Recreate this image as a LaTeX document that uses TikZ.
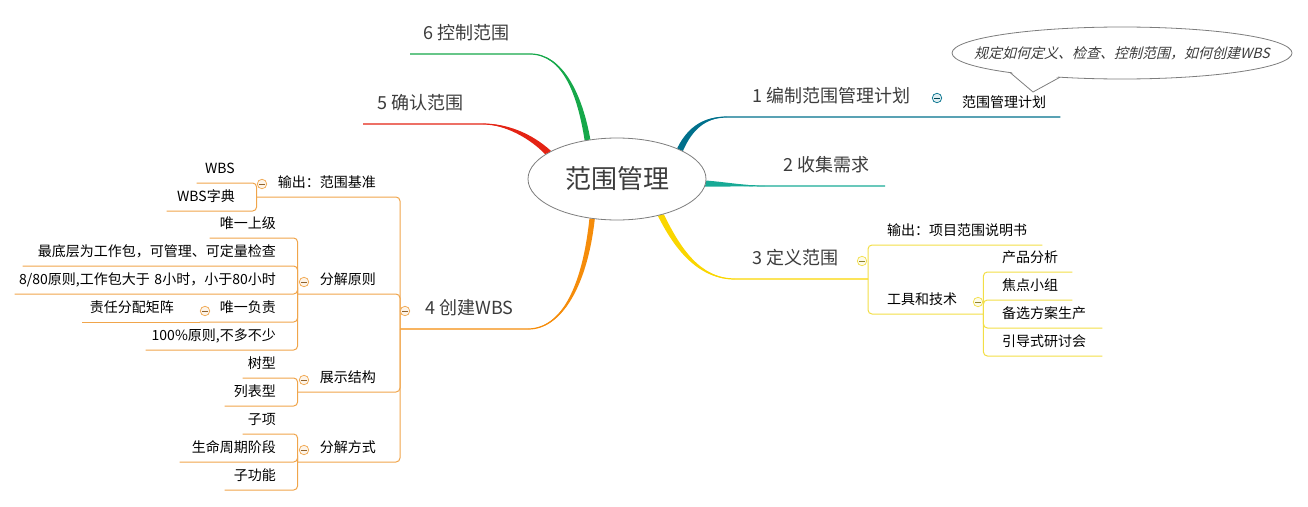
\documentclass[tikz,border=0pt]{standalone}
\usepackage{fontspec}
\setmainfont{Noto Sans CJK SC}
\newfontfamily\notefont{Noto Sans CJK SC}[FakeSlant=0.25]
\usetikzlibrary{shapes.geometric, backgrounds}
\definecolor{hubgray}{RGB}{125,125,125}
\definecolor{labelgray}{RGB}{60,60,60}
\definecolor{planteal}{RGB}{0,112,140}
\definecolor{reqteal}{RGB}{24,170,150}
\definecolor{defyellow}{RGB}{250,214,0}
\definecolor{defyellowlt}{RGB}{242,222,70}
\definecolor{wbsorange}{RGB}{245,140,10}
\definecolor{wbsorangelt}{RGB}{240,165,75}
\definecolor{verred}{RGB}{228,35,20}
\definecolor{ctrlgreen}{RGB}{22,168,74}
\newcommand{\hubsz}{\fontsize{26pt}{30pt}\selectfont}
\newcommand{\mainsz}{\fontsize{18pt}{21pt}\selectfont}
\newcommand{\subsz}{\fontsize{14pt}{16pt}\selectfont}
\newcommand{\notesz}{\fontsize{14pt}{16pt}\selectfont}
\tikzset{
  hub/.style={ellipse, draw=hubgray, fill=white, line width=0.8pt,
    minimum width=178pt, minimum height=82pt, font=\hubsz, text=labelgray},
  mainlabel/.style={anchor=south west, inner sep=0pt, text depth=14pt,
    font=\mainsz, text=labelgray},
  rtopic/.style={anchor=south west, inner sep=0pt, text depth=9pt,
    font=\subsz, align=left},
  ltopic/.style={anchor=south east, inner sep=0pt, text depth=9pt,
    font=\subsz, align=right},
  mainline/.style={line width=1.2pt},
  subline/.style={line width=1pt, rounded corners=4pt},
  foldmark/.style={circle, draw=#1, fill=#1!12, line width=0.7pt,
    minimum size=9.5pt, inner sep=0pt,
    path picture={\draw[#1!60!black, line width=0.7pt]
      ([xshift=2.2pt]path picture bounding box.west) --
      ([xshift=-2.2pt]path picture bounding box.east);}},
  notetext/.style={inner sep=0pt, font=\notefont\notesz, text=labelgray},
  notebubble/.style={draw=hubgray, fill=white, line width=0.8pt},
}

\begin{document}
\begin{tikzpicture}[x=1pt, y=-1pt]
  \useasboundingbox (0,0) rectangle (1308,506);

  \node[hub] (hub) at (617,179) {范围管理};

  \node[mainlabel] (m1) at (752,117) {1 编制范围管理计划};
  \node[mainlabel] (m2) at (783,186) {2 收集需求};
  \node[mainlabel] (m3) at (752,279) {3 定义范围};
  \node[mainlabel] (m4) at (425,329) {4 创建WBS};
  \node[mainlabel] (m5) at (377,124) {5 确认范围};
  \node[mainlabel] (m6) at (423,54)  {6 控制范围};

  \coordinate (g1) at (727,117);
  \coordinate (g2) at (765,186);
  \coordinate (e2) at (885,186);
  \coordinate (g3) at (735,279);
  \coordinate (j3) at (868,279);
  \coordinate (g4) at (528,329);
  \coordinate (j4) at (400,329);
  \coordinate (g5) at (483,124);
  \coordinate (e5) at (363,124);
  \coordinate (g6) at (530,54);
  \coordinate (e6) at (410,54);

  \begin{scope}[on background layer]
    \fill[planteal] (hub.27) .. controls (688,126) and (705,116) .. (g1)
      .. controls (705,118) and (692,130) .. (hub.23.5) -- cycle;
    \fill[reqteal] (hub.359) .. controls (725,182) and (745,185.5) .. (g2)
      .. controls (745,186.5) and (725,186.5) .. (hub.355.5) -- cycle;
    \fill[defyellow] (hub.323.5) .. controls (680.5,248.5) and (700,278) .. (g3)
      .. controls (700,280) and (675.5,251.5) .. (hub.318.5) -- cycle;
    \fill[wbsorange] (hub.235.5) .. controls (582.5,285) and (562,328) .. (g4)
      .. controls (562,330) and (587.5,285) .. (hub.241) -- cycle;
    \fill[verred] (hub.157) .. controls (531,132.5) and (505,123) .. (g5)
      .. controls (505,125) and (529,137.5) .. (hub.161) -- cycle;
    \fill[ctrlgreen] (hub.124) .. controls (582.5,95) and (563,53) .. (g6)
      .. controls (563,55) and (577.5,95) .. (hub.130) -- cycle;
  \end{scope}

  % 1 and 2
  \node[rtopic, text width=98pt] (plan1) at (962,117) {范围管理计划};
  \draw[mainline, planteal] (hub.25) .. controls (690,128) and (705,117) .. (g1)
    -- (plan1.south east);
  \draw[mainline, reqteal] (hub.357) .. controls (725,184) and (745,186) .. (g2)
    -- (e2);

  % 3
  \draw[mainline, defyellow] (hub.321) .. controls (678,250) and (700,279) .. (g3)
    -- (j3);
  \node[rtopic, text width=155pt] (o3) at (887,245) {输出：项目范围说明书};
  \node[rtopic, text width=96pt] (k3) at (887,314) {工具和技术};
  \draw[subline, defyellowlt] (j3) |- (o3.south east);
  \draw[subline, defyellowlt] (j3) |- (k3.south east);
  \node[rtopic, text width=70pt] (k31) at (1002,272) {产品分析};
  \node[rtopic, text width=70pt] (k32) at (1002,300) {焦点小组};
  \node[rtopic, text width=100pt] (k33) at (1002,328) {备选方案生产};
  \node[rtopic, text width=100pt] (k34) at (1002,356) {引导式研讨会};
  \foreach \k in {k31,k32,k33,k34}
    \draw[subline, defyellowlt] (k3.south east) |- (\k.south east);

  % 4
  \draw[mainline, wbsorange] (hub.238) .. controls (585,285) and (562,329) .. (g4)
    -- (j4);
  \node[ltopic, text width=119pt] (o4) at (376,197) {输出：范围基准};
  \node[ltopic, text width=78pt] (d4) at (376,294) {分解原则};
  \node[ltopic, text width=78pt] (s4) at (376,392) {展示结构};
  \node[ltopic, text width=78pt] (t4) at (376,462) {分解方式};
  \foreach \k in {o4,d4,s4,t4}
    \draw[subline, wbsorangelt] (j4) |- (\k.south west);

  \node[ltopic, text width=38pt] (o41) at (235,183) {WBS};
  \node[ltopic, text width=68pt] (o42) at (235,211) {WBS字典};
  \foreach \k in {o41,o42}
    \draw[subline, wbsorangelt] (o4.south west) |- (\k.south west);

  \node[ltopic, text width=66pt] (d41) at (276,238) {唯一上级};
  \node[ltopic, text width=253pt] (d42) at (276,266) {最底层为工作包，可管理、可定量检查};
  \node[ltopic, text width=261pt] (d43) at (276,294) {8/80原则,工作包大于 8小时，小于80小时};
  \node[ltopic, text width=76pt] (d44) at (276,322) {唯一负责};
  \node[ltopic, text width=130pt] (d45) at (276,350) {100\%原则,不多不少};
  \foreach \k in {d41,d42,d43,d44,d45}
    \draw[subline, wbsorangelt] (d4.south west) |- (\k.south west);
  \node[ltopic, text width=92pt] (d441) at (174,322) {责任分配矩阵};
  \draw[subline, wbsorangelt] (d44.south west) -- (d441.south west);

  \node[ltopic, text width=33pt] (s41) at (276,378) {树型};
  \node[ltopic, text width=51pt] (s42) at (276,406) {列表型};
  \foreach \k in {s41,s42}
    \draw[subline, wbsorangelt] (s4.south west) |- (\k.south west);

  \node[ltopic, text width=33pt] (t41) at (276,434) {子项};
  \node[ltopic, text width=96pt] (t42) at (276,462) {生命周期阶段};
  \node[ltopic, text width=51pt] (t43) at (276,490) {子功能};
  \foreach \k in {t41,t42,t43}
    \draw[subline, wbsorangelt] (t4.south west) |- (\k.south west);

  % 5 and 6
  \draw[mainline, verred] (hub.159) .. controls (530,135) and (505,124) .. (g5)
    -- (e5);
  \draw[mainline, ctrlgreen] (hub.127) .. controls (580,95) and (563,54) .. (g6)
    -- (e6);

  % callout
  \node[notetext] (note) at (1122,53) {规定如何定义、检查、控制范围，如何创建WBS};
  \begin{scope}[on background layer]
    \draw[notebubble] (note.center) ellipse [x radius=170, y radius=26];
  \end{scope}
  \coordinate (nb1) at (1010,72.5);
  \coordinate (nb2) at (1060,77.2);
  \coordinate (tip) at (1033,92);
  \fill[white] ([yshift=2pt]nb1) -- (tip) -- ([yshift=2pt]nb2) -- cycle;
  \draw[hubgray, line width=0.8pt] (nb1) -- (tip) -- (nb2);

  \node[foldmark=planteal] (f1) at (937,98) {};
  \node[foldmark=defyellowlt] (f3) at (862,261) {};
  \node[foldmark=defyellowlt] (f31) at (978,302) {};
  \node[foldmark=wbsorangelt] (f4) at (405,311) {};
  \node[foldmark=wbsorangelt] (f41) at (262,184) {};
  \node[foldmark=wbsorangelt] (f42) at (304,282) {};
  \node[foldmark=wbsorangelt] (f421) at (205,311) {};
  \node[foldmark=wbsorangelt] (f43) at (304,380) {};
  \node[foldmark=wbsorangelt] (f44) at (304,450) {};
\end{tikzpicture}
\end{document}
